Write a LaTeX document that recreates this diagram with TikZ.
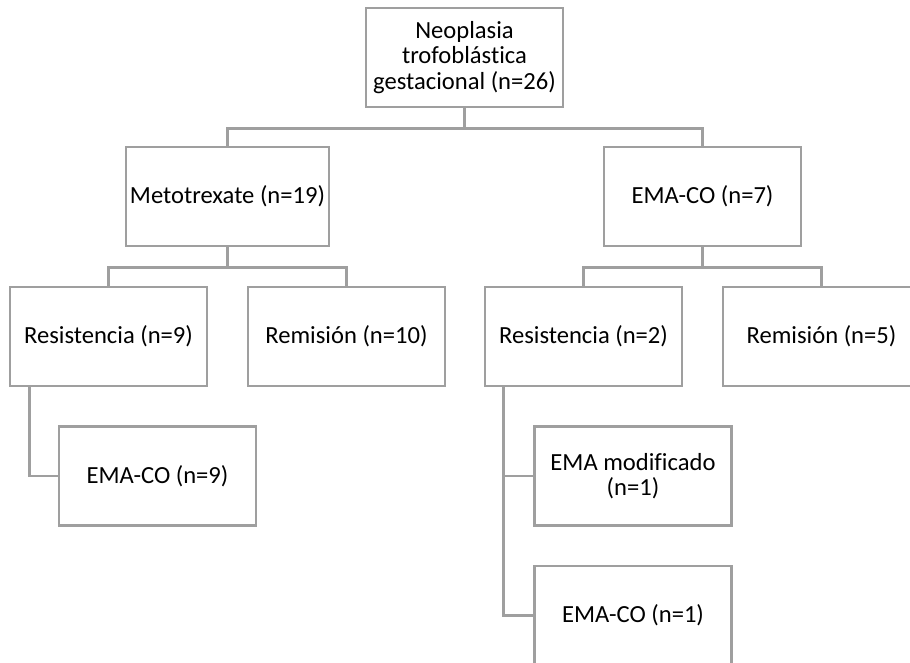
\documentclass[tikz,border=0pt]{standalone}
\usepackage{fontspec}
\setmainfont{Carlito}[RawFeature=-liga]
\usepackage{tikz}
\usetikzlibrary{positioning}

\begin{document}
\begin{tikzpicture}[
  x=0.5pt, y=-0.5pt,
  box/.style={draw=gray!75, line width=1.3pt, fill=white, align=center,
    font=\fontsize{12.3}{12.8}\selectfont, inner sep=2pt,
    minimum width=98.5pt, minimum height=49.5pt},
  link/.style={draw=gray!75, line width=1.3pt}
]
\useasboundingbox (0,0) rectangle (910,663);
\clip (0,0) rectangle (910,663);

\node[box] (root) at (464.5,57.5) {Neoplasia\\trofobl\'astica\\gestacional (n=26)};

\node[box] (meto)  at (227.5,196.5) {Metotrexate (n=19)};
\node[box] (emaco) at (702.5,196.5) {EMA-CO (n=7)};

\node[box] (res1) at (108.5,336.5) {Resistencia (n=9)};
\node[box] (rem1) at (346.5,336.5) {Remisión (n=10)};
\node[box] (res2) at (583.5,336.5) {Resistencia (n=2)};
\node[box] (rem2) at (821.5,336.5) {Remisión (n=5)};

\node[box] (ema9)   at (157.5,476)   {EMA-CO (n=9)};
\node[box] (emamod) at (633,476)     {EMA modificado\\(n=1)};
\node[box] (emaco1) at (633,615.5)   {EMA-CO (n=1)};

% tree links
\draw[link] (root.south) -- ++(0,20) -| (meto.north);
\draw[link] (root.south) -- ++(0,20) -| (emaco.north);
\draw[link] (meto.south) -- ++(0,20) -| (res1.north);
\draw[link] (meto.south) -- ++(0,20) -| (rem1.north);
\draw[link] (emaco.south) -- ++(0,20) -| (res2.north);
\draw[link] (emaco.south) -- ++(0,20) -| (rem2.north);

\draw[link] ([xshift=10.5pt]res1.south west) |- (ema9.west);
\draw[link] ([xshift=10pt]res2.south west) |- (emamod.west);
\draw[link] ([xshift=10pt]res2.south west) |- (emaco1.west);
\end{tikzpicture}
\end{document}
